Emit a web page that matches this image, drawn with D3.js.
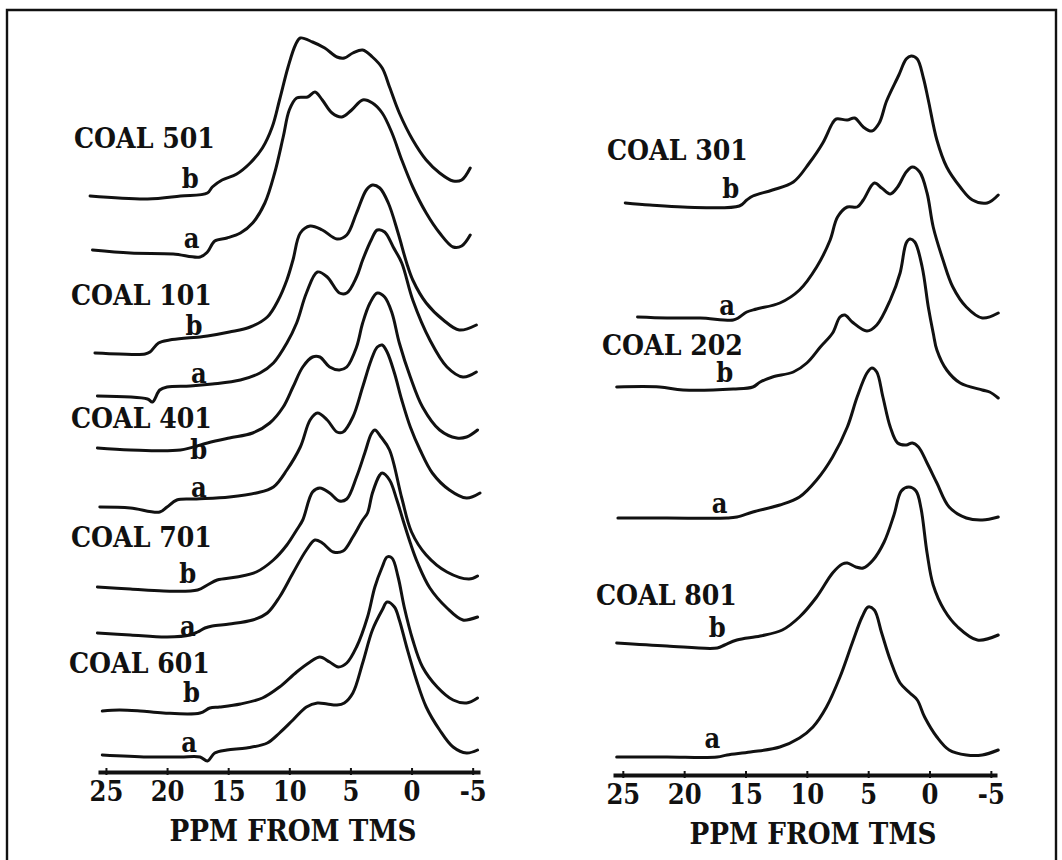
<!DOCTYPE html>
<html><head><meta charset="utf-8">
<script src="https://cdn.jsdelivr.net/npm/d3@7"></script>
<style>
html,body{margin:0;padding:0;background:#fff;}
svg{display:block;}
text{font-family:"DejaVu Serif Condensed","DejaVu Serif",serif;font-weight:bold;fill:#111;}
</style></head><body>
<svg id="chart" width="1062" height="860"></svg>
<script>
// Proton NMR traces of coal samples, each as [ppm, relative intensity above the trace baseline]
const ppmTicks = [25, 20, 15, 10, 5, 0, -5];
const axisTitle = "PPM FROM TMS";

const coal501b = [[26.3,0],[21.6,-3],[18.9,0],[16.7,3],[16.3,9],[15.5,16],[14.3,22],[13.2,33],[12.2,48],[11.4,69],[10.8,96],[10.1,129],[9.5,151],[9.1,158],[8.1,154],[7.1,148],[6.1,139],[5.5,138],[4.8,143],[4.0,146],[3.2,139],[2.4,128],[1.8,109],[1.0,83],[-0.1,56],[-1.2,36],[-2.3,23],[-3.4,15],[-4.1,16],[-4.8,28]];
const coal501a = [[26.1,0],[23.0,-3],[19.5,-4],[17.3,-7],[16.7,-2],[16.1,9],[15.1,12],[14.0,17],[13.0,27],[12.0,47],[11.2,77],[10.5,113],[10.0,140],[9.4,152],[8.5,153],[7.9,158],[7.3,150],[6.5,137],[5.7,133],[4.9,140],[4.0,150],[3.2,147],[2.4,137],[1.6,117],[0.8,90],[-0.1,63],[-1.2,37],[-2.3,17],[-3.4,3],[-4.1,4],[-4.8,15]];
const coal101b = [[25.9,0],[23.9,-1],[21.8,-1],[21.4,1],[20.7,10],[19.8,13],[18.4,15],[17.3,16],[16.7,17],[14.9,21],[13.2,26],[11.8,36],[10.9,53],[10.2,73],[9.7,93],[9.1,120],[8.3,127],[7.3,123],[6.1,114],[5.3,118],[4.5,140],[3.7,163],[3.2,168],[2.6,165],[1.9,150],[1.1,120],[0.4,90],[-0.1,73],[-1.2,50],[-2.6,33],[-3.9,23],[-5.3,28]];
const coal101a = [[25.7,0],[21.6,-3],[21.2,-6],[20.6,6],[20.0,9],[18.1,10],[16.3,12],[14.0,16],[12.4,23],[11.3,33],[10.2,53],[9.4,73],[8.6,103],[7.7,124],[6.9,119],[5.9,103],[5.3,103],[4.5,119],[4.0,136],[3.3,156],[2.8,166],[2.2,164],[1.5,149],[0.8,133],[-0.1,96],[-1.5,56],[-2.9,29],[-4.2,19],[-5.3,24]];
const coal401b = [[25.7,0],[23.0,-2],[18.9,-2],[16.7,5],[14.9,10],[13.0,15],[11.6,25],[10.5,41],[9.7,61],[8.9,81],[8.1,91],[7.5,91],[6.7,81],[5.9,78],[5.3,81],[4.5,101],[4.0,125],[3.4,145],[2.8,155],[2.2,151],[1.6,135],[1.0,105],[0.1,71],[-0.9,41],[-2.3,18],[-3.7,10],[-4.5,11],[-5.4,18]];
const coal401a = [[25.5,0],[23.0,-1],[20.6,-5],[20.0,0],[19.2,7],[17.6,8],[14.9,10],[12.7,14],[11.3,20],[10.2,37],[9.1,60],[8.3,87],[7.7,94],[6.9,87],[6.1,75],[5.6,75],[4.8,90],[4.0,120],[3.3,147],[2.8,160],[2.4,162],[2.0,155],[1.4,134],[0.8,107],[0.1,80],[-0.7,57],[-1.7,34],[-3.1,17],[-4.5,9],[-5.6,14]];
const coal701b = [[25.7,0],[23.0,-2],[20.3,-4],[17.5,-3],[16.7,2],[15.9,7],[14.3,10],[12.7,15],[11.3,27],[10.2,42],[9.4,57],[8.9,67],[8.1,95],[7.5,99],[6.7,94],[5.9,86],[5.3,88],[4.5,110],[3.8,135],[3.3,153],[3.0,157],[2.5,150],[1.8,137],[0.8,89],[0.0,55],[-1.2,32],[-2.9,15],[-4.7,8],[-5.4,11]];
const coal701a = [[25.7,0],[23.0,-2],[20.0,-4],[18.1,-2],[17.5,1],[16.9,5],[16.3,7],[14.9,9],[13.0,13],[11.8,20],[10.8,36],[9.7,60],[8.6,83],[7.9,93],[7.3,90],[6.4,81],[5.6,82],[4.8,96],[4.0,113],[3.6,120],[3.2,140],[2.6,158],[2.4,160],[1.8,153],[1.2,133],[0.7,113],[0.1,90],[-0.5,70],[-1.5,45],[-2.9,25],[-4.2,13],[-5.4,16]];
const coal601b = [[25.3,0],[23.9,1],[22.2,0],[20.3,-2],[17.3,-2],[16.5,3],[15.7,4],[14.0,7],[12.2,13],[10.8,24],[9.4,39],[8.3,49],[7.5,54],[6.7,49],[6.0,44],[5.3,48],[4.5,64],[3.6,94],[3.0,124],[2.4,144],[2.0,154],[1.6,153],[1.1,134],[0.6,104],[-0.1,71],[-0.9,44],[-2.1,24],[-3.4,11],[-4.5,8],[-5.4,13]];
const coal601a = [[25.3,0],[21.6,-2],[18.9,-2],[17.3,-2],[16.7,-6],[16.1,2],[15.1,5],[13.5,7],[11.8,12],[10.8,22],[9.7,35],[8.6,48],[7.7,52],[6.9,51],[6.1,50],[5.5,52],[4.8,62],[4.0,92],[3.2,125],[2.4,145],[2.0,153],[1.4,148],[1.0,135],[0.4,108],[-0.4,75],[-1.2,48],[-2.3,25],[-3.4,8],[-4.5,2],[-5.4,5]];

const coal301b = [[24.8,0],[22.8,-2],[20.1,-4],[15.5,-3],[14.9,3],[14.4,7],[12.8,13],[11.1,21],[9.8,40],[8.7,60],[7.9,80],[7.6,84],[6.7,83],[6.1,85],[5.4,76],[4.7,72],[4.1,80],[3.5,102],[2.5,128],[1.9,144],[1.5,147],[1.0,144],[0.5,125],[0.1,103],[-0.6,63],[-1.4,36],[-2.5,16],[-3.5,3],[-4.7,0],[-5.6,8]];
const coal301a = [[23.8,0],[21.4,-1],[18.7,-1],[16.0,-3],[15.6,-1],[14.9,5],[14.1,8],[12.2,14],[10.6,27],[9.2,50],[8.1,77],[7.5,100],[6.7,110],[5.9,110],[5.4,117],[4.5,134],[3.9,129],[3.2,123],[2.6,130],[1.9,145],[1.4,150],[0.8,145],[0.2,124],[-0.3,90],[-1.1,57],[-1.9,30],[-3.0,10],[-4.3,-1],[-5.6,4]];
const coal202b = [[25.5,0],[22.0,0],[20.1,-3],[16.0,-2],[14.4,0],[13.8,5],[12.8,10],[11.1,15],[10.0,24],[8.9,40],[7.9,54],[7.3,70],[6.9,72],[6.3,65],[5.1,56],[4.3,62],[3.2,87],[2.4,114],[1.9,144],[1.6,148],[1.2,145],[0.6,120],[0.1,80],[-0.3,54],[-0.6,37],[-1.4,17],[-2.5,4],[-4.3,-3],[-4.9,-5],[-5.6,-11]];
const coal202a = [[25.4,0],[21.4,0],[16.5,0],[15.7,1],[14.4,6],[12.2,13],[10.6,21],[9.2,38],[7.9,61],[6.7,91],[5.9,121],[5.1,145],[4.7,150],[4.3,146],[3.8,121],[3.2,91],[2.6,75],[1.9,73],[1.4,75],[0.9,71],[0.2,55],[-0.6,35],[-1.6,11],[-3.0,0],[-4.3,-2],[-5.6,1]];
const coal801b = [[25.5,0],[21.4,-3],[17.3,-5],[16.7,-2],[15.7,3],[13.8,7],[12.0,13],[10.6,26],[9.2,46],[7.9,70],[7.1,79],[6.7,80],[6.0,76],[5.4,75],[4.6,83],[3.7,101],[2.9,128],[2.3,152],[1.7,156],[1.1,152],[0.7,135],[0.2,90],[-0.3,58],[-1.2,33],[-2.3,16],[-3.9,3],[-5.6,8]];
const coal801a = [[25.5,0],[21.4,0],[17.3,0],[16.5,2],[14.6,5],[12.2,10],[10.6,19],[9.5,30],[8.4,50],[7.3,80],[6.3,114],[5.5,140],[5.0,150],[4.5,147],[3.9,124],[3.2,97],[2.4,74],[1.6,64],[1.0,57],[0.4,40],[-0.6,20],[-1.6,7],[-3.0,2],[-4.3,2],[-5.6,7]];

// stacking order and vertical offset of every trace (same intensity units)
const leftSamples  = ["501","501","101","101","401","401","701","701","601","601"];
const leftRuns     = ["b","a","b","a","b","a","b","a","b","a"];
const leftSpectra  = [coal501b, coal501a, coal101b, coal101a, coal401b, coal401a, coal701b, coal701a, coal601b, coal601a];
const leftOffsets  = [576, 522, 419, 376, 324, 265, 185, 139, 61, 17];

const rightSamples = ["301","301","202","202","801","801"];
const rightRuns    = ["b","a","b","a","b","a"];
const rightSpectra = [coal301b, coal301a, coal202b, coal202a, coal801b, coal801a];
const rightOffsets = [572, 458, 388, 257, 132, 18];

const svg = d3.select("#chart");

// page frame
svg.append("path")
  .attr("d", "M7,860 L7,10 L1056,10 L1056,860")
  .attr("fill", "none").attr("stroke", "#111").attr("stroke-width", 2.4);

function fitWidth(sel, target) {
  // scale the font so the label spans the wanted width
  sel.each(function () {
    const w = this.getComputedTextLength();
    if (w > 0) {
      const fs = parseFloat(d3.select(this).attr("font-size"));
      d3.select(this).attr("font-size", (fs * target / w).toFixed(2));
    }
  });
}

function drawPanel(cfg) {
  const x = d3.scaleLinear().domain(cfg.ppmDomain).range(cfg.xRange);
  const y = d3.scaleLinear().domain([0, 800]).range([cfg.axisY, cfg.axisY - 800]);
  const g = svg.append("g");

  const line = d3.line().curve(d3.curveCatmullRom.alpha(0.5));

  cfg.spectra.forEach((pts, i) => {
    const off = cfg.offsets[i];
    g.append("path")
      .attr("d", line(pts.map(p => [x(p[0]), y(off + p[1])])))
      .attr("fill", "none")
      .attr("stroke", "#111")
      .attr("stroke-width", 3)
      .attr("stroke-linejoin", "round")
      .attr("stroke-linecap", "round");
  });

  // run letters (a / b) just above each trace baseline
  cfg.spectra.forEach((pts, i) => {
    const lay = cfg.runLayout[i];
    g.append("text")
      .attr("x", x(lay[0]))
      .attr("y", y(cfg.offsets[i]) + lay[1])
      .attr("text-anchor", "middle")
      .attr("font-size", 27)
      .text(cfg.runs[i]);
  });

  // sample names, one per pair of traces
  cfg.nameLayout.forEach((lay, k) => {
    const t = g.append("text")
      .attr("x", lay[0])
      .attr("y", lay[1])
      .attr("font-size", 28)
      .text("COAL " + cfg.samples[k * 2]);
    fitWidth(t, 141);
  });

  const axis = d3.axisBottom(x)
    .tickValues(ppmTicks)
    .tickSizeInner(5)
    .tickSizeOuter(0)
    .tickFormat(d => String(d));
  const ax = g.append("g").attr("transform", `translate(0,${cfg.axisY})`).call(axis);
  ax.select(".domain").attr("stroke", "#111").attr("stroke-width", 3.8);
  ax.selectAll(".tick line").attr("stroke", "#111").attr("stroke-width", 2).attr("y1", -4).attr("y2", 3);
  ax.selectAll(".tick text")
    .attr("dy", null).attr("y", 29)
    .attr("fill", "#111")
    .attr("font-size", 27)
    .attr("font-family", null);

  const title = g.append("text")
    .attr("x", cfg.titleX)
    .attr("y", cfg.axisY + 69)
    .attr("text-anchor", "middle")
    .attr("font-size", 28)
    .text(axisTitle);
  fitWidth(title, 247);
}

drawPanel({
  ppmDomain: [25.65, -5.6], xRange: [98, 480], axisY: 772,
  spectra: leftSpectra, offsets: leftOffsets, runs: leftRuns, samples: leftSamples,
  runLayout: [[18.1,-8],[18.0,-2],[17.8,-18],[17.4,-13],[17.4,11],[17.4,-10],[18.3,-4],[18.3,3],[18.0,-9],[18.2,-3]],
  nameLayout: [[74,148],[71,305],[71,428],[71,547],[69,673]],
  titleX: 293
});

drawPanel({
  ppmDomain: [25.8, -5.5], xRange: [613, 997], axisY: 775,
  spectra: rightSpectra, offsets: rightOffsets, runs: rightRuns, samples: rightSamples,
  runLayout: [[16.2,-5],[16.5,-2],[16.7,-5],[17.1,-5],[17.3,-6],[17.7,-9]],
  nameLayout: [[607,160],[602,355],[596,605]],
  titleX: 813
});
</script>
</body></html>
